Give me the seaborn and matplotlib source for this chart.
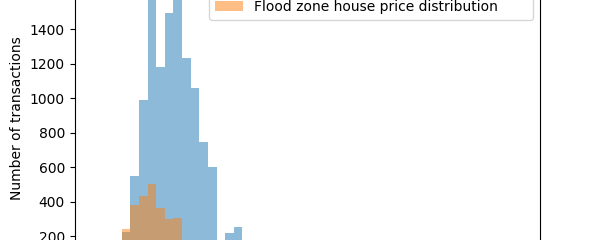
import numpy as np
import pandas as pd
import matplotlib
matplotlib.use("Agg")
import matplotlib.pyplot as plt
import seaborn as sns

plt.rcParams['font.family'] = ['DejaVu Sans']
plt.rcParams['font.size'] = 10

# Histogram bins (price bins, left-to-right, equal width)
bin_edges = [0, 1, 2, 3, 4, 5, 6, 7, 8, 9, 10, 11, 12, 13, 14]
# Non-flood-zone transactions per bin
all_counts = [225, 548, 990, 1640, 1183, 1497, 1690, 1232, 1058, 748, 603, 150, 216, 254]
# Flood-zone transactions per bin
flood_counts = [239, 380, 432, 502, 363, 299, 307, 120, 90, 60, 40, 20, 15, 10]

all_label = "Non-flood zone house price distribution"
flood_label = "Flood zone house price distribution"
y_label = "Number of transactions"

centers = [(a + b) / 2 for a, b in zip(bin_edges[:-1], bin_edges[1:])]
df_all = pd.DataFrame({"bin": centers, "count": all_counts})
df_flood = pd.DataFrame({"bin": centers, "count": flood_counts})

fig = plt.figure(figsize=(6, 2.4), dpi=100)
W, H = 600, 240
ax_left, ax_right = 74.7, 539.7
ax_top, ax_bottom = -33.5, 270.5
ax = fig.add_axes([ax_left / W, (H - ax_bottom) / H,
                   (ax_right - ax_left) / W, (ax_bottom - ax_top) / H])

sns.histplot(data=df_all, x="bin", weights="count", bins=bin_edges,
             color="#1f77b4", alpha=0.5, linewidth=0, label=all_label, ax=ax)
sns.histplot(data=df_flood, x="bin", weights="count", bins=bin_edges,
             color="#ff7f0e", alpha=0.5, linewidth=0, label=flood_label, ax=ax)

ax.set_xlim(-5.45, 48.49)
ax.set_ylim(0, 1765)
ax.set_yticks([0, 200, 400, 600, 800, 1000, 1200, 1400, 1600])
ax.set_xticks([])
ax.set_ylabel(y_label)
ax.set_xlabel("")
ax.legend(loc="upper right")

fig.savefig("out.png", dpi=100)
